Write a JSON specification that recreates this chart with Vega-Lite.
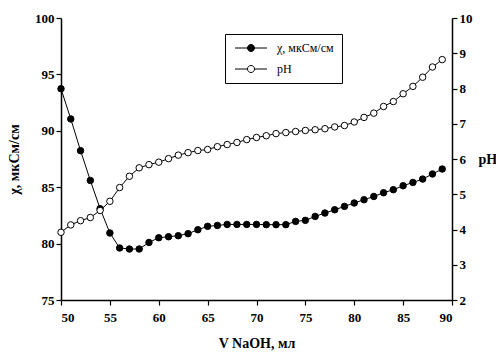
{
  "$schema": "https://vega.github.io/schema/vega-lite/v6.json",
  "width": 391,
  "height": 282,
  "autosize": "none",
  "padding": {"left": 61, "top": 18, "right": 44, "bottom": 53},
  "background": "white",
  "config": {
    "view": {"stroke": null},
    "font": "Liberation Serif",
    "axis": {
      "grid": false,
      "domainColor": "black",
      "domainWidth": 1.5,
      "tickColor": "black",
      "tickWidth": 1.2,
      "tickSize": 5,
      "labelFont": "Liberation Serif",
      "labelFontWeight": "bold",
      "labelFontSize": 13,
      "labelColor": "black",
      "titleFont": "Liberation Serif",
      "titleFontWeight": "bold",
      "titleFontSize": 14,
      "titleColor": "black"
    }
  },
  "data": {
    "values": [
      {"V": 50, "chi": 93.73, "pH": 3.92},
      {"V": 51, "chi": 91.05, "pH": 4.13},
      {"V": 52, "chi": 88.24, "pH": 4.25},
      {"V": 53, "chi": 85.6, "pH": 4.34},
      {"V": 54, "chi": 83.1, "pH": 4.54},
      {"V": 55, "chi": 80.94, "pH": 4.8},
      {"V": 56, "chi": 79.61, "pH": 5.19},
      {"V": 57, "chi": 79.52, "pH": 5.51},
      {"V": 58, "chi": 79.52, "pH": 5.75},
      {"V": 59, "chi": 80.1, "pH": 5.84},
      {"V": 60, "chi": 80.52, "pH": 5.91},
      {"V": 61, "chi": 80.61, "pH": 6.01},
      {"V": 62, "chi": 80.7, "pH": 6.11},
      {"V": 63, "chi": 80.88, "pH": 6.18},
      {"V": 64, "chi": 81.23, "pH": 6.24},
      {"V": 65, "chi": 81.53, "pH": 6.27},
      {"V": 66, "chi": 81.61, "pH": 6.35},
      {"V": 67, "chi": 81.7, "pH": 6.41},
      {"V": 68, "chi": 81.7, "pH": 6.47},
      {"V": 69, "chi": 81.7, "pH": 6.55},
      {"V": 70, "chi": 81.7, "pH": 6.61},
      {"V": 71, "chi": 81.68, "pH": 6.66},
      {"V": 72, "chi": 81.68, "pH": 6.72},
      {"V": 73, "chi": 81.68, "pH": 6.75},
      {"V": 74, "chi": 81.97, "pH": 6.78},
      {"V": 75, "chi": 82.06, "pH": 6.81},
      {"V": 76, "chi": 82.41, "pH": 6.83},
      {"V": 77, "chi": 82.71, "pH": 6.86},
      {"V": 78, "chi": 83.0, "pH": 6.91},
      {"V": 79, "chi": 83.3, "pH": 6.95},
      {"V": 80, "chi": 83.6, "pH": 7.05},
      {"V": 81, "chi": 83.89, "pH": 7.18},
      {"V": 82, "chi": 84.18, "pH": 7.3},
      {"V": 83, "chi": 84.51, "pH": 7.49},
      {"V": 84, "chi": 84.78, "pH": 7.63},
      {"V": 85, "chi": 85.13, "pH": 7.85},
      {"V": 86, "chi": 85.42, "pH": 8.06},
      {"V": 87, "chi": 85.72, "pH": 8.32},
      {"V": 88, "chi": 86.17, "pH": 8.61},
      {"V": 89, "chi": 86.61, "pH": 8.82}
    ]
  },
  "encoding": {
    "x": {
      "field": "V",
      "type": "quantitative",
      "scale": {"domain": [50, 90], "nice": false, "zero": false},
      "axis": {"values": [50, 55, 60, 65, 70, 75, 80, 85, 90], "title": "V NaOH, мл", "titlePadding": 12, "labelPadding": 6}
    }
  },
  "layer": [
    {
      "encoding": {
        "y": {
          "field": "chi",
          "type": "quantitative",
          "scale": {"domain": [75, 100], "nice": false, "zero": false},
          "axis": {"orient": "left", "values": [75, 80, 85, 90, 95, 100], "title": "χ, мкСм/см", "titlePadding": 13}
        }
      },
      "layer": [
        {"mark": {"type": "line", "color": "black", "strokeWidth": 1}},
        {
          "mark": {"type": "point", "shape": "circle", "filled": true, "stroke": "black", "strokeWidth": 1, "size": 42, "opacity": 1},
          "encoding": {"fill": {"datum": "χ, мкСм/см"}}
        }
      ]
    },
    {
      "encoding": {
        "y": {
          "field": "pH",
          "type": "quantitative",
          "scale": {"domain": [2, 10], "nice": false, "zero": false},
          "axis": {"orient": "right", "values": [2, 3, 4, 5, 6, 7, 8, 9, 10], "title": "pH", "titleAngle": 0, "titleAlign": "left", "titleBaseline": "middle", "titlePadding": 6}
        }
      },
      "layer": [
        {"mark": {"type": "line", "color": "black", "strokeWidth": 1}},
        {
          "mark": {"type": "point", "shape": "circle", "filled": true, "stroke": "black", "strokeWidth": 1, "size": 42, "opacity": 1},
          "encoding": {
            "fill": {
              "datum": "pH",
              "type": "nominal",
              "scale": {"domain": ["χ, мкСм/см", "pH"], "range": ["black", "white"]},
              "legend": {
                "title": null,
                "orient": "none",
                "legendX": 164,
                "legendY": 16,
                "padding": 8,
                "strokeColor": "black",
                "fillColor": "white",
                "symbolType": "M-3.2,0L-0.7,0M0.7,0L3.2,0M-0.7,0A0.7,0.7,0,1,1,0.7,0A0.7,0.7,0,1,1,-0.7,0Z",
                "symbolSize": 100,
                "symbolStrokeColor": "black",
                "symbolStrokeWidth": 1,
                "symbolOffset": 12,
                "labelOffset": 20,
                "labelFont": "Liberation Serif",
                "labelFontSize": 12,
                "labelColor": "black",
                "rowPadding": 9
              }
            }
          }
        }
      ]
    }
  ],
  "resolve": {"scale": {"y": "independent"}}
}
